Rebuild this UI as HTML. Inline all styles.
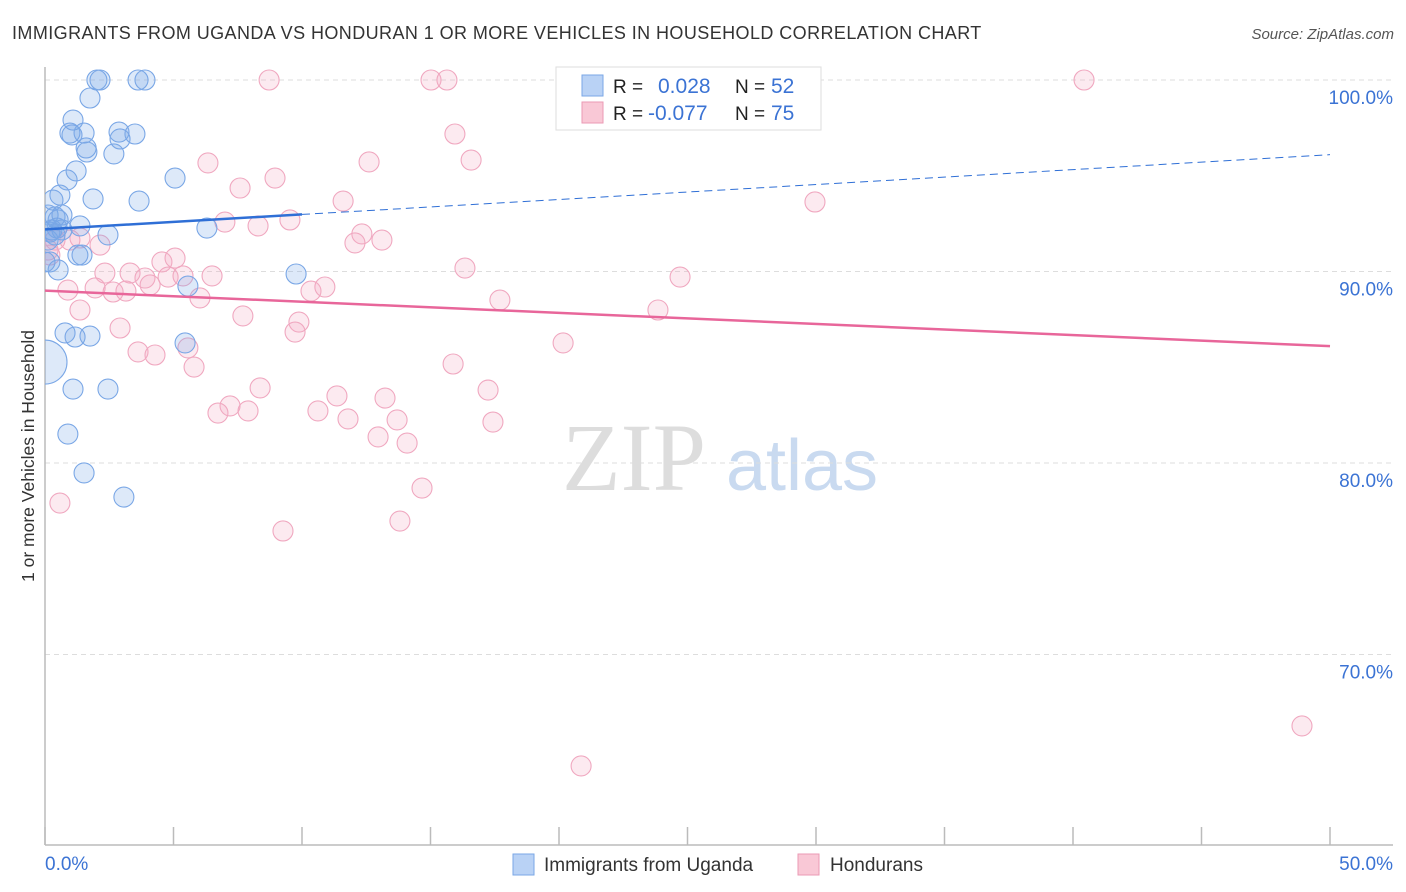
<!DOCTYPE html>
<html><head><meta charset="utf-8"><style>
body{margin:0;background:#fff;width:1406px;height:892px;overflow:hidden;font-family:"Liberation Sans",sans-serif;}
svg{position:absolute;left:0;top:0}
</style></head><body>
<svg id="chart" width="1406" height="892" xmlns="http://www.w3.org/2000/svg">
<defs><clipPath id="plotclip"><rect x="45" y="40" width="1360" height="805"/></clipPath></defs>
<text x="12" y="39" font-size="18" fill="#333" letter-spacing="0.42">IMMIGRANTS FROM UGANDA VS HONDURAN 1 OR MORE VEHICLES IN HOUSEHOLD CORRELATION CHART</text>
<text x="1394" y="39" font-size="15" fill="#555" text-anchor="end" font-style="italic">Source: ZipAtlas.com</text>
<text transform="translate(34,456) rotate(-90)" font-size="17.5" fill="#333" text-anchor="middle">1 or more Vehicles in Household</text>
<g>
<text x="634" y="490" font-size="96" fill="#ddd" font-family="Liberation Serif,serif" text-anchor="middle">ZIP</text>
<text x="802" y="490" font-size="72" fill="#c9daf0" text-anchor="middle">atlas</text>
</g>
<g id="grid"></g><g id="axes"></g><g id="marks" clip-path="url(#plotclip)"></g><g id="lines"></g>
<g>
<rect x="556" y="67" width="265" height="63" fill="#fff" stroke="#ddd"/>
<rect x="582" y="75" width="21" height="21" fill="#b9d2f5" stroke="#7aa7e6"/>
<rect x="582" y="102" width="21" height="21" fill="#f9c8d6" stroke="#eb9ab4"/>
<text x="613" y="93" font-size="19" fill="#222">R =</text>
<text x="658" y="93" font-size="21" fill="#3b73d4">0.028</text>
<text x="735" y="93" font-size="19" fill="#222">N =</text>
<text x="771" y="93" font-size="21" fill="#3b73d4">52</text>
<text x="613" y="120" font-size="19" fill="#222">R =</text>
<text x="648" y="120" font-size="21" fill="#3b73d4">-0.077</text>
<text x="735" y="120" font-size="19" fill="#222">N =</text>
<text x="771" y="120" font-size="21" fill="#3b73d4">75</text>
</g>
<g>
<rect x="513" y="854" width="21" height="21" fill="#b9d2f5" stroke="#7aa7e6"/>
<text x="544" y="871" font-size="19" fill="#333">Immigrants from Uganda</text>
<rect x="798" y="854" width="21" height="21" fill="#f9c8d6" stroke="#eb9ab4"/>
<text x="830" y="871" font-size="19" fill="#333">Hondurans</text>
</g>
</svg>
<script>
const blueX=[2.02,2.14,3.62,3.89,1.75,1.09,0.97,1.05,1.52,1.6,1.63,2.68,2.88,2.92,3.5,1.21,0.86,0.58,0.31,1.87,3.66,5.06,0.12,0.39,0.66,0.51,0.27,0.39,0.66,1.36,2.45,6.3,1.28,1.44,0.19,0.51,9.77,5.56,0.78,1.17,1.75,5.45,1.09,2.45,0.89,1.52,3.07,0,0.19,0,0.12,0.47];
const blueY=[100,100,100,100,99.06,97.91,97.23,97.13,97.23,96.45,96.24,96.14,97.28,96.92,97.18,95.25,94.78,93.99,93.73,93.79,93.68,94.88,92.95,92.85,92.95,92.69,92.17,91.91,92.17,92.38,91.91,92.27,90.86,90.86,90.5,90.08,89.87,89.24,86.79,86.58,86.63,86.27,83.86,83.86,81.51,79.48,78.22,85.27,92.06,90.5,91.64,92.27];
const pinkX=[8.72,15.02,15.64,40.43,28.05,15.95,16.58,6.34,12.61,7.59,8.95,11.6,29.96,7.0,8.29,9.53,12.33,13.11,12.06,1.36,2.14,0.39,0.19,0.97,16.34,24.71,2.33,3.31,3.89,4.55,5.06,4.79,5.37,6.5,4.09,1.95,0.89,2.65,3.15,6.03,10.35,10.89,17.7,23.85,1.36,7.7,9.88,9.73,2.92,5.56,3.62,4.28,20.16,5.8,15.88,8.37,11.36,17.24,13.23,7.2,6.73,7.9,10.62,11.79,13.7,17.43,12.96,14.09,14.67,0.58,9.26,13.81,48.91,20.86,0.12];
const pinkY=[100,100,100,100,100,97.18,95.82,95.67,95.72,94.36,94.88,93.68,93.63,92.58,92.38,92.69,91.96,91.64,91.49,91.75,91.38,91.64,90.86,91.64,90.18,89.71,89.92,89.92,89.66,90.5,90.7,89.71,89.77,89.77,89.3,89.14,89.03,88.93,88.98,88.62,88.98,89.19,88.51,87.99,87.99,87.68,87.36,86.84,87.05,86.01,85.8,85.64,86.27,85.01,85.17,83.92,83.5,83.81,83.39,82.98,82.61,82.72,82.72,82.3,82.25,82.14,81.36,81.04,78.69,77.91,76.45,76.97,66.27,64.18,91.12];
const yTicks=[100,90,80,70];
const yTickLabels=["100.0%","90.0%","80.0%","70.0%"];
const xTickVals=[0,5,10,15,20,25,30,35,40,45,50];
const xEndLabels=["0.0%","50.0%"];
const blueTrend=[92.2,96.1];
const pinkTrend=[89.0,86.1];
const blueSolidEnd=10;

const NS="http://www.w3.org/2000/svg";
const xs=v=>45+v*25.7;
const ys=v=>80+(100-v)*19.15;
function mk(tag,attrs,parent){const e=document.createElementNS(NS,tag);for(const k in attrs)e.setAttribute(k,attrs[k]);parent.appendChild(e);return e;}
const grid=document.getElementById('grid'),axes=document.getElementById('axes'),marks=document.getElementById('marks'),lines=document.getElementById('lines');
yTicks.forEach((t,i)=>{
  const l=mk('line',{x1:45,x2:1393,y1:ys(t),y2:ys(t),stroke:'#ddd','stroke-dasharray':'5,4'},grid);
  
  
  const tx=mk('text',{x:1393,y:ys(t)+24,'font-size':19,fill:'#3b73d4','text-anchor':'end'},axes);
  tx.textContent=yTickLabels[i];
  
  
});
const ya=mk('line',{x1:45,x2:45,y1:67,y2:845,stroke:'#bbb','stroke-width':1.5},axes);


const xa=mk('line',{x1:45,x2:1393,y1:845,y2:845,stroke:'#bbb','stroke-width':1.5},axes);


xTickVals.forEach(v=>{
  const t=mk('line',{x1:xs(v),x2:xs(v),y1:827,y2:845,stroke:'#bbb','stroke-width':1.5},axes);
  
  
});
const xl0=mk('text',{x:45,y:870,'font-size':19,fill:'#3b73d4'},axes);
xl0.textContent=xEndLabels[0];


const xl1=mk('text',{x:1393,y:870,'font-size':19,fill:'#3b73d4','text-anchor':'end'},axes);
xl1.textContent=xEndLabels[1];



pinkX.forEach((x,i)=>{
  const c=mk('circle',{cx:xs(x),cy:ys(pinkY[i]),r:10,fill:'rgba(244,170,196,0.25)',stroke:'#f0a8c0','stroke-width':1.1},marks);
  
  
});
blueX.forEach((x,i)=>{
  const big=(x===0&&blueY[i]<86);
  const c=mk('circle',{cx:xs(x),cy:ys(blueY[i]),r:big?22:10,fill:'rgba(120,168,232,0.25)',stroke:'#7aa7e6','stroke-width':1.1},marks);
  
  
});
const bAt=v=>blueTrend[0]+(blueTrend[1]-blueTrend[0])*v/50;
const bl=mk('line',{x1:xs(0),y1:ys(bAt(0)),x2:xs(blueSolidEnd),y2:ys(bAt(blueSolidEnd)),stroke:'#2f6fd6','stroke-width':2.5},lines);


const bd=mk('line',{x1:xs(blueSolidEnd),y1:ys(bAt(blueSolidEnd)),x2:xs(50),y2:ys(bAt(50)),stroke:'#2f6fd6','stroke-width':1,'stroke-dasharray':'8,5'},lines);


const pl=mk('line',{x1:xs(0),y1:ys(pinkTrend[0]),x2:xs(50),y2:ys(pinkTrend[1]),stroke:'#e8669a','stroke-width':2.5},lines);


</script>
</body></html>
